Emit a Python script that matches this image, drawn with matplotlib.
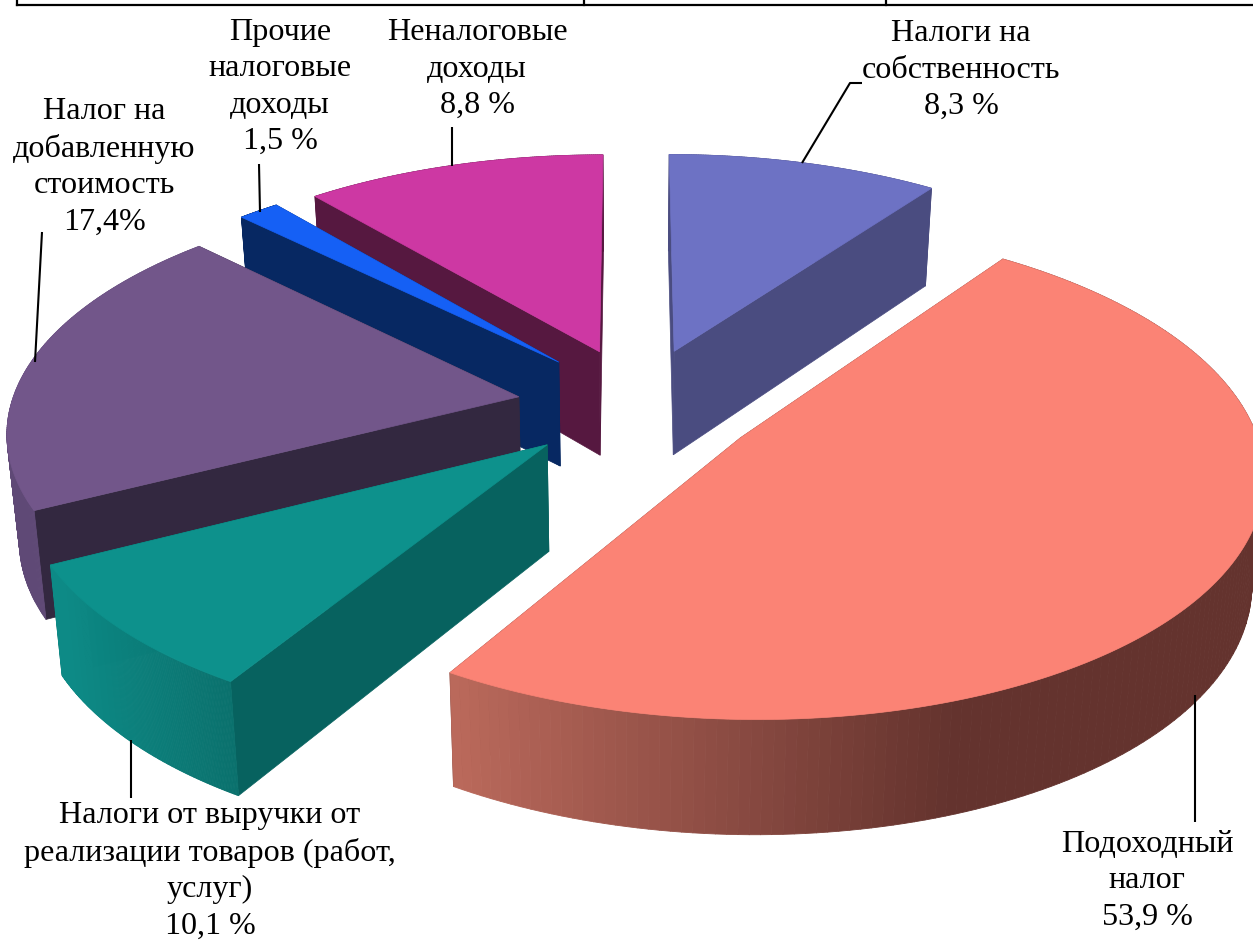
import numpy as np
import matplotlib
matplotlib.use("Agg")
import matplotlib.pyplot as plt
from matplotlib.collections import PolyCollection
from matplotlib.colors import to_rgb

names = ["Налоги на\nсобственность\n8,3 %", "Подоходный\nналог\n53,9 %",
         "Налоги от выручки от\nреализации товаров (работ,\nуслуг)\n10,1 %",
         "Налог на\nдобавленную\nстоимость\n17,4%", "Прочие\nналоговые\nдоходы\n1,5 %",
         "Неналоговые\nдоходы\n8,8 %"]
shares = [9.95, 48.8, 8.67, 20.0, 1.53, 11.05]

explode = [0.212, 0.279, 0.262, 0.22, 0.203, 0.2]
explode_dir = [25, 130, 217.5, 268, 315, 342]

top_col = ["#6D72C4", "#FB8375", "#0D918C", "#72568A", "#1560F5", "#CD38A3"]
cut_col = ["#4A4C80", "#64332E", "#07625F", "#332840", "#072862", "#561840"]
wall_left = ["#4A4C80", "#BC6A5C", "#0D8A86", "#644C7E", "#072862", "#561840"]
wall_right = ["#4A4C80", "#64332E", "#0A706C", "#5F4976", "#072862", "#561840"]
shade_x = [(0, 1), (449, 958), (63, 236), (0, 1), (0, 1), (0, 1)]
draw_order = [5, 0, 4, 3, 1, 2]

label_xy = [(961, 70), (1147, 881), (210, 871), (104, 167), (280, 87), (477, 69)]
leaders = [[(802, 163), (850, 83), (862, 83)], [(1195, 695), (1195, 822)], [(131, 740), (131, 798)],
           [(35, 362), (42, 232)], [(260, 212), (259, 164)], [(452, 166), (452, 127)]]

cx, cy = 630, 395
rx, ry = 505, 233
k = 0.13
h0, kh = 105, 0.075


def project(X, Y, z=0.0):
    s = 1 + k * Y
    px = cx + rx * X / s
    py = cy - ry * Y / s
    if z:
        px = cx + (px - cx) * (1 - 0.02 * z)
        py = py + z * h0 / (1 + kh * Y)
    return px, py


fig = plt.figure(figsize=(12.53, 9.41), dpi=100)
ax = fig.add_axes([0, 0, 1, 1])
ax.set_xlim(0, 1253)
ax.set_ylim(941, 0)
ax.axis("off")

fracs = np.array(shares) / sum(shares)
ends = np.cumsum(fracs) * 360
starts = ends - fracs * 360

for i in draw_order:
    d = np.radians(explode_dir[i])
    ax0, ay0 = explode[i] * np.sin(d), explode[i] * np.cos(d)
    th = np.radians(np.linspace(starts[i], ends[i], 160))
    X = ax0 + np.sin(th)
    Y = ay0 + np.cos(th)
    tx, ty = project(X, Y)
    bx, by = project(X, Y, 1.0)
    apx, apy = project(ax0, ay0)
    abx, aby = project(ax0, ay0, 1.0)

    # cut faces first, the top covers the hidden ones
    for j in (0, -1):
        ax.fill([apx, tx[j], bx[j], abx], [apy, ty[j], by[j], aby], color=cut_col[i], lw=0.5)

    # outer wall, shaded by screen x
    c0, c1 = np.array(to_rgb(wall_left[i])), np.array(to_rgb(wall_right[i]))
    x0, x1 = shade_x[i]
    quads, cols = [], []
    for n in range(len(th) - 1):
        quads.append([(tx[n], ty[n]), (tx[n + 1], ty[n + 1]), (bx[n + 1], by[n + 1]), (bx[n], by[n])])
        t = np.clip((tx[n] - x0) / (x1 - x0), 0, 1)
        cols.append(c0 + (c1 - c0) * t)
    ax.add_collection(PolyCollection(quads, facecolors=cols, edgecolors=cols, linewidths=0.6))

    ax.fill(np.r_[apx, tx], np.r_[apy, ty], color=top_col[i], lw=0.5)

for pts in leaders:
    xs, ys = zip(*pts)
    ax.plot(xs, ys, color="black", lw=1.5, solid_capstyle="butt")

for txt, (x, y) in zip(names, label_xy):
    ax.text(x, y, txt, ha="center", va="center", family="Liberation Serif", fontsize=23.1,
            linespacing=1.34, color="black")

# table rule left over above the chart
ax.plot([17, 1253], [5, 5], color="black", lw=1.6)
for x in (17, 584, 886):
    ax.plot([x, x], [0, 5], color="black", lw=1.6)

fig.savefig("out.png", dpi=100)
